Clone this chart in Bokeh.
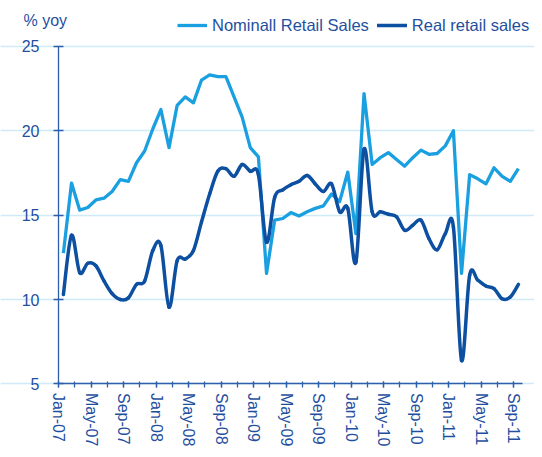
from bokeh.plotting import figure
from bokeh.models import FixedTicker, Legend, LegendItem, Label, Range1d
from bokeh.embed import file_html
from bokeh.resources import INLINE

# ---- data (monthly, Jan-07 .. Sep-11) ----
tick_labels = ["Jan-07", "May-07", "Sep-07", "Jan-08", "May-08", "Sep-08", "Jan-09",
               "May-09", "Sep-09", "Jan-10", "May-10", "Sep-10", "Jan-11", "May-11", "Sep-11"]

nominal = [12.75, 16.9, 15.3, 15.45, 15.9, 16.0, 16.4, 17.1, 17.0, 18.1, 18.8, 20.1,
           21.25, 19.0, 21.5, 22.0, 21.65, 23.0, 23.3, 23.2, 23.2, 22.0, 20.8, 19.0,
           18.45, 11.55, 14.7, 14.8, 15.15, 14.95, 15.2, 15.4, 15.55, 16.25, 15.8, 17.55,
           13.9, 22.2, 18.0, 18.4, 18.7, 18.3, 17.9, 18.4, 18.85, 18.6, 18.65, 19.1,
           20.0, 11.55, 17.4, 17.15, 16.85, 17.8, 17.3, 17.0, 17.75]

real = [10.3, 13.8, 11.6, 12.15, 12.0, 11.1, 10.35, 10.0, 10.1, 10.9, 11.1, 12.9,
        13.2, 9.55, 12.3, 12.4, 12.9, 14.6, 16.25, 17.6, 17.75, 17.3, 18.0, 17.6,
        17.4, 13.4, 16.05, 16.5, 16.8, 17.0, 17.35, 16.85, 16.4, 16.85, 15.2, 15.4,
        12.2, 18.9, 15.2, 15.2, 15.05, 14.9, 14.1, 14.4, 14.7, 13.6, 12.95, 13.9,
        14.3, 6.4, 11.45, 11.15, 10.8, 10.65, 10.05, 10.15, 10.9]

unit_label = "% yoy"

# ---- styling ----
C_NOM = "#1AA0E0"
C_REAL = "#0D4FA0"
C_AXIS = "#2F5FAA"
C_TEXT = "#1F4F9F"
C_GRID = "#D0EBF8"
FONT = "Liberation Sans"

X_END = 57.1          # right end of the axis (months from Jan-07)
Y_MIN, Y_MAX = 5, 25
x = [i + 0.6 for i in range(len(nominal))]

# the frame spans the whole canvas so that the legend, the unit label and the
# axis labels are never clipped; both axes are pinned with fixed_location
p = figure(width=534, height=449, output_backend="svg", toolbar_location=None,
           x_range=Range1d(-7.14, 58.58), y_range=Range1d(1.12, 27.71),
           min_border_left=0, min_border_right=0, min_border_top=0, min_border_bottom=0)
p.outline_line_color = None
p.background_fill_color = "white"
p.border_fill_color = "white"

p.xgrid.visible = False
p.ygrid.grid_line_color = C_GRID
p.ygrid.grid_line_width = 1.5
p.ygrid.bounds = (0, X_END)

# nominal: straight segments
r_nom = p.line(x, nominal, line_color=C_NOM, line_width=3.3, line_join="round")

# real: smoothed (Catmull-Rom style bezier between data points)
n = len(real)
x0, y0, x1, y1, cx0, cy0, cx1, cy1 = [], [], [], [], [], [], [], []
for i in range(n - 1):
    xa, ya = x[i], real[i]
    xb, yb = x[i + 1], real[i + 1]
    xp, yp = (x[i - 1], real[i - 1]) if i > 0 else (xa, ya)
    xn, yn = (x[i + 2], real[i + 2]) if i + 2 < n else (xb, yb)
    x0.append(xa); y0.append(ya); x1.append(xb); y1.append(yb)
    cx0.append(xa + (xb - xp) / 6.0); cy0.append(ya + (yb - yp) / 6.0)
    cx1.append(xb - (xn - xa) / 6.0); cy1.append(yb - (yn - ya) / 6.0)
r_real = p.bezier(x0=x0, y0=y0, x1=x1, y1=y1, cx0=cx0, cy0=cy0, cx1=cx1, cy1=cy1,
                  line_color=C_REAL, line_width=3.5, line_cap="round")

legend = Legend(items=[LegendItem(label="Nominall Retail Sales", renderers=[r_nom]),
                       LegendItem(label="Real retail sales", renderers=[r_real])],
                orientation="horizontal", location=(177, 414),
                border_line_color=None, background_fill_alpha=0,
                padding=0, margin=0, spacing=8, label_standoff=5,
                glyph_width=30, glyph_height=20, label_height=20,
                label_text_font=FONT, label_text_font_size="16.5px",
                label_text_color=C_TEXT)
p.add_layout(legend)

p.add_layout(Label(x=23, y=429, x_units="screen", y_units="screen", text=unit_label,
                   text_font=FONT, text_font_size="16px", text_color=C_TEXT,
                   text_baseline="middle"))

# axes
tick_pos = [4 * k for k in range(len(tick_labels))]
minor_pos = [2 * k for k in range(2 * len(tick_labels) - 1)]
p.xaxis.ticker = FixedTicker(ticks=tick_pos, minor_ticks=minor_pos)
p.xaxis.major_label_overrides = {t: lab for t, lab in zip(tick_pos, tick_labels)}
p.xaxis.major_label_orientation = "vertical"
p.xaxis.bounds = (0, X_END)
p.xaxis.fixed_location = Y_MIN

p.yaxis.ticker = FixedTicker(ticks=[5, 10, 15, 20, 25])
p.yaxis.bounds = (Y_MIN, Y_MAX)
p.yaxis.fixed_location = 0

for ax in (p.xaxis[0], p.yaxis[0]):
    ax.axis_line_color = C_AXIS
    ax.axis_line_width = 1.3
    ax.major_tick_line_color = C_AXIS
    ax.minor_tick_line_color = C_AXIS
    ax.major_tick_line_width = 1.3
    ax.minor_tick_line_width = 1.3
    ax.major_label_text_font = FONT
    ax.major_label_text_font_size = "16px"
    ax.major_label_text_color = C_TEXT

p.xaxis.major_tick_in = 2
p.xaxis.major_tick_out = 4
p.xaxis.minor_tick_in = 2
p.xaxis.minor_tick_out = 4
p.xaxis.major_label_standoff = 5

p.yaxis.major_tick_in = 5
p.yaxis.major_tick_out = 5
p.yaxis.minor_tick_line_color = None
p.yaxis.major_label_standoff = 14

open("out.html", "w").write(file_html(p, INLINE))
